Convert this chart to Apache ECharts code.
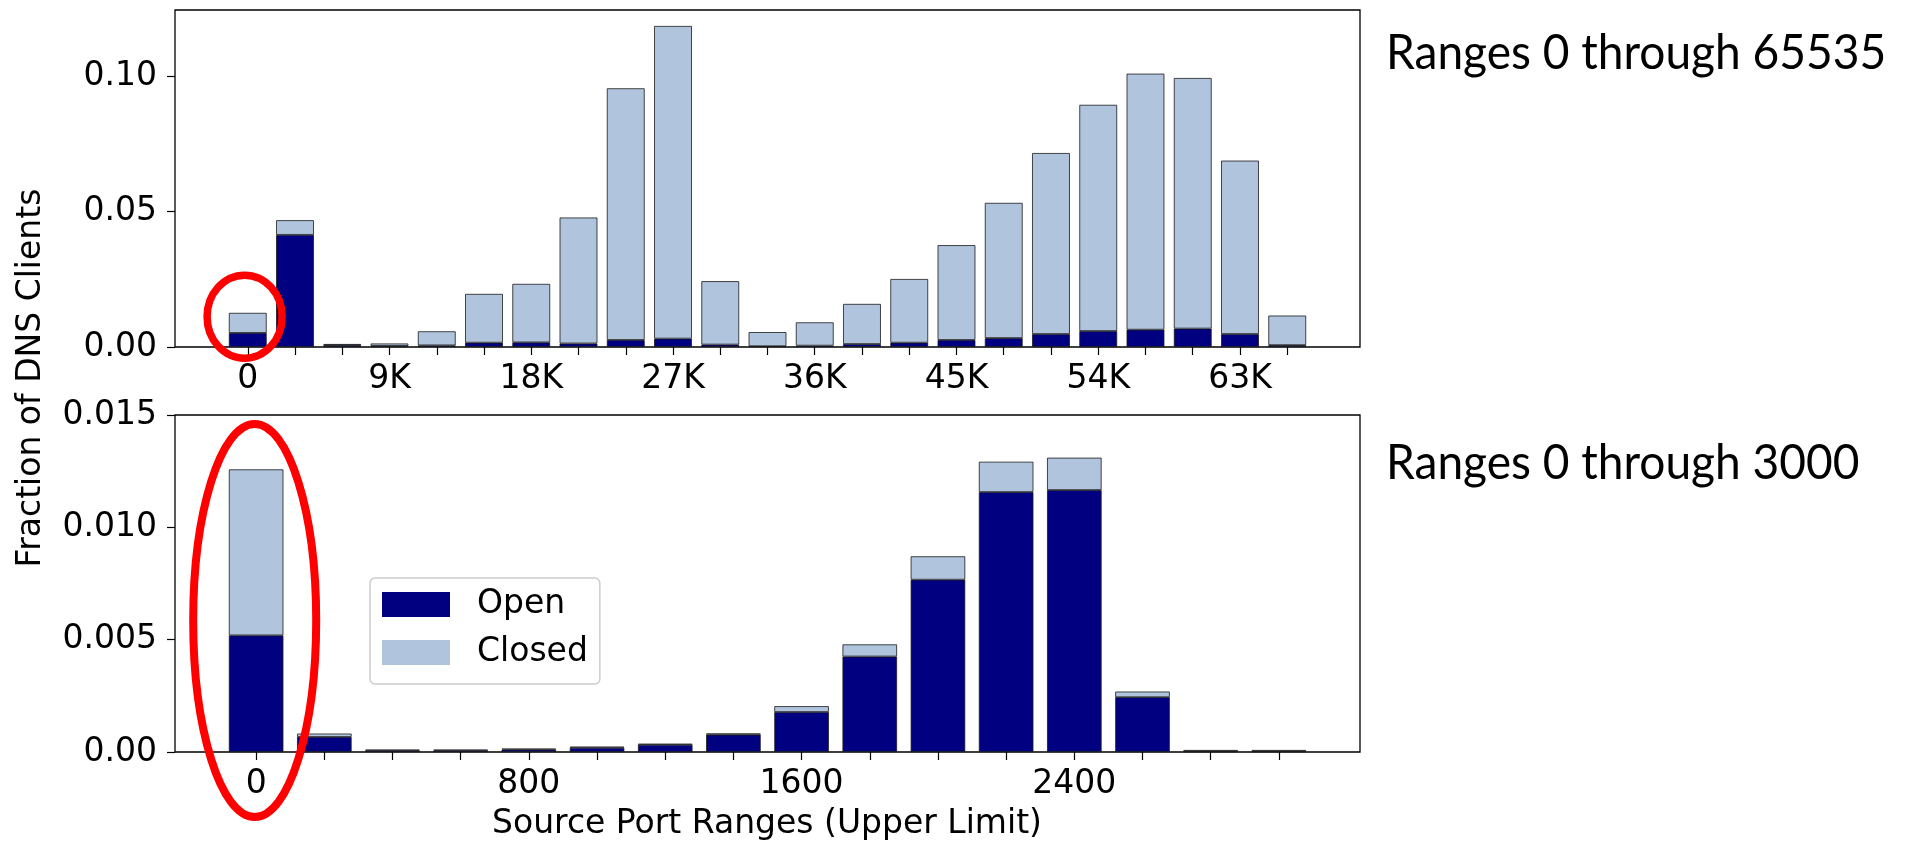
<!DOCTYPE html>
<html><head><meta charset="utf-8">
<script src="https://cdn.jsdelivr.net/npm/echarts@6/dist/echarts.min.js"></script>
<style>html,body{margin:0;padding:0;background:#fff}#c{width:1907px;height:843px}</style>
</head><body><div id="c"></div>
<script>
// ---- data: upper panel (ranges 0 through 65535, bins of 3000 ports) ----
const topPorts = [0,3000,6000,9000,12000,15000,18000,21000,24000,27000,30000,33000,36000,39000,42000,45000,48000,51000,54000,57000,60000,63000,66000];
const topOpen   = [0.0052,0.0414,0.0007,0.0004,0.0006,0.0016,0.0017,0.0013,0.0026,0.0031,0.0009,0.0003,0.0005,0.0011,0.0016,0.0026,0.0033,0.0048,0.0059,0.0064,0.0068,0.0048,0.0007];
const topClosed = [0.0074,0.0054,0.0004,0.0009,0.0052,0.0180,0.0216,0.0465,0.0929,0.1154,0.0234,0.0052,0.0086,0.0148,0.0235,0.0350,0.0499,0.0668,0.0835,0.0945,0.0925,0.0640,0.0109];
const topTickValues = [0,9000,18000,27000,36000,45000,54000,63000];
const topTickLabels = ['0','9K','18K','27K','36K','45K','54K','63K'];
const topYTicks  = [0,0.05,0.10];
const topYLabels = ['0.00','0.05','0.10'];

// ---- data: lower panel (ranges 0 through 3000, bins of 200 ports) ----
const botPorts = [0,200,400,600,800,1000,1200,1400,1600,1800,2000,2200,2400,2600,2800,3000];
const botOpen   = [0.00519,0.00067,0.00007,0.00007,0.00011,0.00019,0.00032,0.00077,0.00178,0.00425,0.00767,0.01157,0.01166,0.00244,0.00003,0.00003];
const botClosed = [0.00739,0.00015,0.00003,0.00003,0.00004,0.00005,0.00005,0.00006,0.00026,0.00054,0.00104,0.00135,0.00144,0.00025,0.00006,0.00006];
const botTickValues = [0,800,1600,2400];
const botTickLabels = ['0','800','1600','2400'];
const botYTicks  = [0,0.005,0.010,0.015];
const botYLabels = ['0.00','0.005','0.010','0.015'];

const FONT = 'DejaVu Sans';
const FS = 33;
const NAVY = '#000080', LIGHT = '#B0C4DE';

function xAxisCfg(grid, min, max, ticks, labVals, labTexts) {
  return {
    gridIndex: grid, type: 'value', min: min, max: max,
    axisLine: {show: false, onZero: false}, splitLine: {show: false},
    axisTick: {show: true, customValues: ticks, length: 8, lineStyle: {color: '#000', width: 1.2}},
    axisLabel: {customValues: labVals, formatter: v => labTexts[labVals.indexOf(v)],
      fontFamily: FONT, fontSize: FS, color: '#000', margin: 16}
  };
}
function yAxisCfg(grid, max, ticks, labels) {
  return {
    gridIndex: grid, type: 'value', min: 0, max: max,
    axisLine: {show: false, onZero: false}, splitLine: {show: false},
    axisTick: {show: true, customValues: ticks, length: 8, lineStyle: {color: '#000', width: 1.2}},
    axisLabel: {customValues: ticks, formatter: v => labels[ticks.indexOf(v)],
      fontFamily: FONT, fontSize: FS, color: '#000', margin: 18}
  };
}
// value first, port second (so the value dimension is the stacked one)
function barSeries(name, grid, stack, ports, vals, color) {
  return {
    name: name, type: 'bar', xAxisIndex: grid, yAxisIndex: grid, stack: stack,
    barWidth: '80%',
    encode: {x: 1, y: 0},
    data: ports.map((p, i) => [vals[i], p]),
    itemStyle: {color: color, borderColor: '#1a1a1a', borderWidth: 0.8}
  };
}

const chart = echarts.init(document.getElementById('c'), null, {renderer: 'canvas'});
chart.setOption({
  animation: false,
  backgroundColor: '#fff',
  grid: [
    {left: 175, top: 10, width: 1185, height: 337, show: true, borderColor: '#000', borderWidth: 1.3, backgroundColor: 'transparent'},
    {left: 175, top: 415, width: 1185, height: 337, show: true, borderColor: '#000', borderWidth: 1.3, backgroundColor: 'transparent'}
  ],
  xAxis: [
    xAxisCfg(0, -4620, 70620, topPorts, topTickValues, topTickLabels),
    xAxisCfg(1, -238, 3238, botPorts, botTickValues, botTickLabels)
  ],
  yAxis: [
    yAxisCfg(0, 0.1244, topYTicks, topYLabels),
    yAxisCfg(1, 0.015, botYTicks, botYLabels)
  ],
  legend: {
    orient: 'vertical', left: 370, top: 578, data: ['Open', 'Closed'],
    itemWidth: 68, itemHeight: 25, itemGap: 15, padding: [10, 12, 15, 12],
    borderColor: '#cccccc', borderWidth: 1.5, borderRadius: 5, backgroundColor: '#fff',
    icon: 'rect', itemStyle: {borderWidth: 0}, selectedMode: false,
    textStyle: {fontFamily: FONT, fontSize: FS, lineHeight: 33, color: '#000', padding: [0, 0, 0, 22]}
  },
  series: [
    barSeries('Open', 0, 'top', topPorts, topOpen, NAVY),
    barSeries('Closed', 0, 'top', topPorts, topClosed, LIGHT),
    barSeries('Open', 1, 'bot', botPorts, botOpen, NAVY),
    barSeries('Closed', 1, 'bot', botPorts, botClosed, LIGHT)
  ],
  graphic: [
    {type: 'text', x: 1386, y: 29, scaleX: 0.94,
      style: {text: 'Ranges 0 through 65535', font: '49px Lato', fill: '#000', align: 'left', verticalAlign: 'top'}},
    {type: 'text', x: 1386, y: 439, scaleX: 0.94,
      style: {text: 'Ranges 0 through 3000', font: '49px Lato', fill: '#000', align: 'left', verticalAlign: 'top'}},
    {type: 'text', x: 31, y: 378, rotation: Math.PI / 2,
      style: {text: 'Fraction of DNS Clients', font: FS + 'px "DejaVu Sans"', fill: '#000', align: 'center', verticalAlign: 'middle'}},
    {type: 'text', x: 767, y: 824,
      style: {text: 'Source Port Ranges (Upper Limit)', font: FS + 'px "DejaVu Sans"', fill: '#000', align: 'center', verticalAlign: 'middle'}},
    {type: 'ellipse', z: 100, shape: {cx: 244.6, cy: 316.7, rx: 37.5, ry: 41.5},
      style: {fill: 'none', stroke: '#ff0000', lineWidth: 7.5}},
    {type: 'ellipse', z: 100, shape: {cx: 254.7, cy: 620.5, rx: 61.5, ry: 196.5},
      style: {fill: 'none', stroke: '#ff0000', lineWidth: 8}}
  ]
});
</script>
</body></html>
